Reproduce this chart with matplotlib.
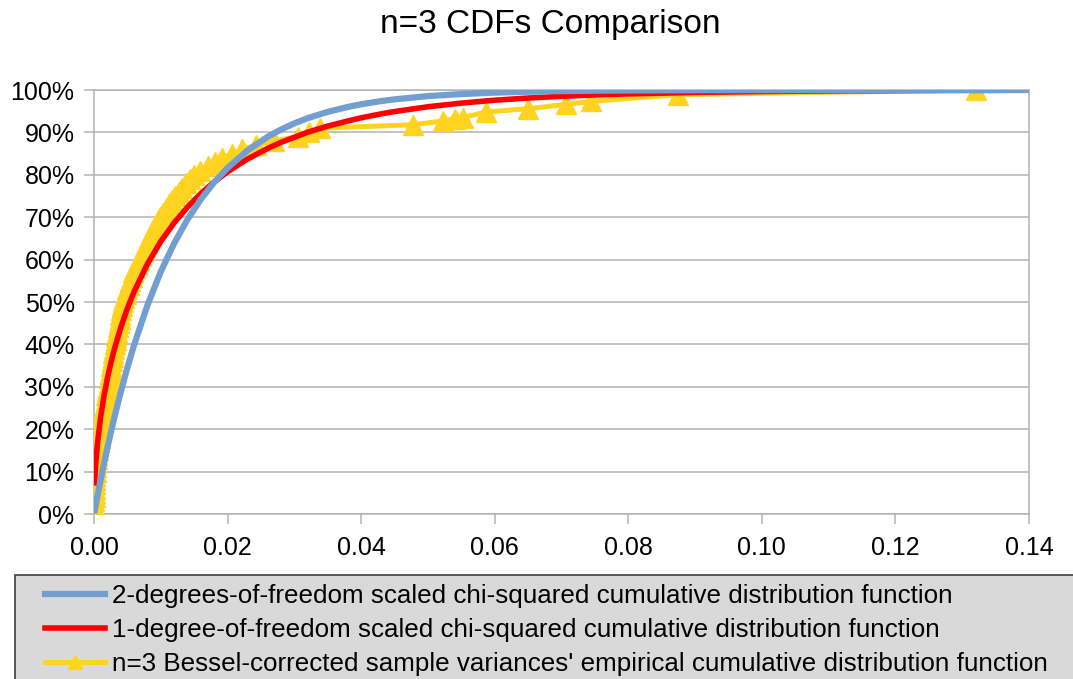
import matplotlib
matplotlib.use('Agg')
import matplotlib.pyplot as plt
from matplotlib.patches import Rectangle
from matplotlib.ticker import PercentFormatter, FormatStrFormatter

plt.rcParams['font.family'] = ['Liberation Sans', 'DejaVu Sans']

title = 'n=3 CDFs Comparison'
series_names = [
    '2-degrees-of-freedom scaled chi-squared cumulative distribution function',
    '1-degree-of-freedom scaled chi-squared cumulative distribution function',
    "n=3 Bessel-corrected sample variances' empirical cumulative distribution function",
]

curve_x = [0.0001, 0.0002, 0.0003, 0.0005, 0.001, 0.0015, 0.002, 0.0025, 0.003, 0.004,
           0.005, 0.006, 0.008, 0.010, 0.012, 0.014, 0.016, 0.018, 0.020, 0.023,
           0.026, 0.028, 0.030, 0.032, 0.035, 0.038, 0.040, 0.043, 0.045, 0.050,
           0.055, 0.060, 0.065, 0.070, 0.075, 0.080, 0.090, 0.100, 0.110, 0.120,
           0.130, 0.140]
chi2_2dof_cdf = [0.0084, 0.0167, 0.0251, 0.0415, 0.0812, 0.1194, 0.1559, 0.1909, 0.2244, 0.2875,
                 0.3454, 0.3986, 0.4923, 0.5715, 0.6383, 0.6947, 0.7423, 0.7824, 0.8164, 0.8576,
                 0.8896, 0.9068, 0.9213, 0.9336, 0.9485, 0.9600, 0.9663, 0.9739, 0.9779, 0.9856,
                 0.9905, 0.9938, 0.9959, 0.9974, 0.9983, 0.9989, 0.9995, 0.9998, 0.9999, 1.0,
                 1.0, 1.0]
chi2_1dof_cdf = [0.0734, 0.1036, 0.1266, 0.1631, 0.2290, 0.2786, 0.3194, 0.3547, 0.3859, 0.4395,
                 0.4850, 0.5242, 0.5898, 0.6427, 0.6868, 0.7239, 0.7558, 0.7831, 0.8070, 0.8373,
                 0.8622, 0.8765, 0.8885, 0.9004, 0.9149, 0.9269, 0.9344, 0.9437, 0.9492, 0.9605,
                 0.9691, 0.9759, 0.9811, 0.9851, 0.9883, 0.9908, 0.9942, 0.9964, 0.9977, 0.9985,
                 0.9991, 0.9994]

sample_variances = [
    0.00003, 0.00004, 0.00005, 0.00007, 0.00008, 0.00010, 0.00012, 0.00015, 0.00018, 0.00021,
    0.00025, 0.00031, 0.00037, 0.00044, 0.00051, 0.00060, 0.00067, 0.00074, 0.00083, 0.00091,
    0.00100, 0.00110, 0.00119, 0.00130, 0.00140, 0.00150, 0.00162, 0.00173, 0.00186, 0.00197,
    0.00210, 0.00219, 0.00230, 0.00239, 0.00250, 0.00260, 0.00270, 0.00279, 0.00290, 0.00300,
    0.00310, 0.00322, 0.00333, 0.00346, 0.00358, 0.00370, 0.00383, 0.00395, 0.00406, 0.00418,
    0.00430, 0.00450, 0.00472, 0.00493, 0.00517, 0.00540, 0.00565, 0.00590, 0.00617, 0.00643,
    0.00670, 0.00700, 0.00728, 0.00760, 0.00788, 0.00820, 0.00853, 0.00886, 0.00920, 0.00955,
    0.00990, 0.01035, 0.01078, 0.01125, 0.01170, 0.01220, 0.01272, 0.01325, 0.01378, 0.01432,
    0.01490, 0.01590, 0.01700, 0.01805, 0.01920, 0.02070, 0.02220, 0.02420, 0.02700, 0.03050,
    0.03220, 0.03390, 0.04780, 0.05220, 0.05400, 0.05520, 0.05870, 0.06500, 0.07070, 0.07440,
    0.08750, 0.13200,
]
empirical_cdf = [
    0.00, 0.01, 0.02, 0.03, 0.04, 0.05, 0.06, 0.07, 0.08, 0.09,
    0.10, 0.11, 0.12, 0.13, 0.14, 0.15, 0.16, 0.17, 0.18, 0.19,
    0.20, 0.21, 0.22, 0.23, 0.24, 0.25, 0.26, 0.27, 0.28, 0.29,
    0.30, 0.31, 0.32, 0.33, 0.34, 0.35, 0.36, 0.37, 0.38, 0.39,
    0.40, 0.41, 0.42, 0.43, 0.44, 0.45, 0.46, 0.47, 0.48, 0.49,
    0.50, 0.51, 0.52, 0.53, 0.54, 0.55, 0.56, 0.57, 0.58, 0.59,
    0.60, 0.61, 0.62, 0.63, 0.64, 0.65, 0.66, 0.67, 0.68, 0.69,
    0.70, 0.71, 0.72, 0.73, 0.74, 0.75, 0.76, 0.77, 0.78, 0.79,
    0.80, 0.81, 0.82, 0.83, 0.84, 0.85, 0.86, 0.87, 0.88, 0.89,
    0.90, 0.91, 0.918, 0.927, 0.932, 0.935, 0.948, 0.956, 0.966, 0.973,
    0.989, 1.000,
]

x_ticks = [0.00, 0.02, 0.04, 0.06, 0.08, 0.10, 0.12, 0.14]
y_ticks = [0.0, 0.1, 0.2, 0.3, 0.4, 0.5, 0.6, 0.7, 0.8, 0.9, 1.0]

BLUE = '#729fcf'
RED = '#ff0000'
YELLOW = '#ffd320'
GRID = '#b3b3b3'

W, H = 1073, 679
fig = plt.figure(figsize=(W / 100, H / 100), dpi=100)
ax = fig.add_axes([94 / W, 1 - 514 / H, (1029 - 94) / W, (514 - 90) / H])

l_yel, = ax.plot(sample_variances, empirical_cdf, color=YELLOW, lw=3.6, marker='^',
                 ms=14, mec=YELLOW, mfc=YELLOW, zorder=3, label=series_names[2])
l_red, = ax.plot(curve_x, chi2_1dof_cdf, color=RED, lw=4.0, zorder=4, label=series_names[1])
l_blue, = ax.plot(curve_x, chi2_2dof_cdf, color=BLUE, lw=4.5, zorder=5, label=series_names[0])

ax.set_xlim(0, 0.14)
ax.set_ylim(0, 1)
ax.set_xticks(x_ticks)
ax.set_yticks(y_ticks)
ax.xaxis.set_major_formatter(FormatStrFormatter('%.2f'))
ax.yaxis.set_major_formatter(PercentFormatter(xmax=1, decimals=0))
ax.grid(axis='y', color=GRID, lw=1.1)
ax.set_axisbelow(True)
for s in ax.spines.values():
    s.set_color(GRID)
    s.set_linewidth(1.1)
ax.tick_params(axis='both', which='major', length=7.5, width=1.1, color=GRID,
               labelsize=18, labelcolor='#000000', direction='out')
ax.tick_params(axis='y', pad=6.5)
ax.tick_params(axis='x', pad=8)

fig.text(550 / W, 1 - 24 / H, title, ha='center', va='center', fontsize=24)

# legend box
fig.patches.append(Rectangle((15 / W, 1 - 700 / H), (1100 - 15) / W, (700 - 575) / H,
                             transform=fig.transFigure, facecolor='#d9d9d9',
                             edgecolor='#3c3c3c', lw=1.2, zorder=0))
fig.legend(handles=[l_blue, l_red, l_yel], labels=series_names, loc='upper left',
           bbox_to_anchor=(45 / W, 1 - 584 / H), frameon=False, fontsize=18.7,
           borderpad=0, borderaxespad=0, handlelength=2.3, handletextpad=0.27,
           labelspacing=0.38, markerscale=0.75)

fig.savefig('out.png', dpi=100)
